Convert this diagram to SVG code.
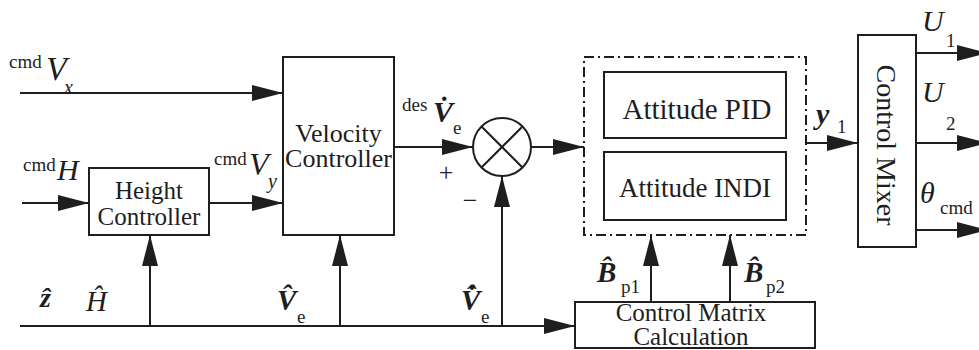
<svg xmlns="http://www.w3.org/2000/svg" width="979" height="350" viewBox="0 0 979 350">
<defs>
<marker id="arr" markerUnits="userSpaceOnUse" markerWidth="32" markerHeight="18" refX="31" refY="9" orient="auto" viewBox="0 0 32 18">
<path d="M0,1 L31,9 L0,17 z" fill="#1e1e1e"/>
</marker>
<style>
.box{fill:#fff;stroke:#1e1e1e;stroke-width:2}
.ln{fill:none;stroke:#1e1e1e;stroke-width:2}
</style>
</defs>
<rect width="979" height="350" fill="#fff"/>

<g id="connectors">
<line class="ln" x1="20" y1="93" x2="283" y2="93" marker-end="url(#arr)"/>
<line class="ln" x1="22" y1="203" x2="89" y2="203" marker-end="url(#arr)"/>
<line class="ln" x1="209" y1="203" x2="283" y2="203" marker-end="url(#arr)"/>
<line class="ln" x1="394" y1="147" x2="473" y2="147" marker-end="url(#arr)"/>
<line class="ln" x1="531" y1="147" x2="584" y2="147" marker-end="url(#arr)"/>
<line class="ln" x1="806" y1="143" x2="858" y2="143" marker-end="url(#arr)"/>
<line class="ln" x1="916" y1="53" x2="988" y2="53" marker-end="url(#arr)"/>
<line class="ln" x1="916" y1="143" x2="988" y2="143" marker-end="url(#arr)"/>
<line class="ln" x1="916" y1="230" x2="988" y2="230" marker-end="url(#arr)"/>
<line class="ln" x1="20" y1="326" x2="575" y2="326" marker-end="url(#arr)"/>
<line class="ln" x1="150" y1="326" x2="150" y2="235" marker-end="url(#arr)"/>
<line class="ln" x1="340" y1="326" x2="340" y2="235" marker-end="url(#arr)"/>
<line class="ln" x1="502" y1="326" x2="502" y2="176" marker-end="url(#arr)"/>
<line class="ln" x1="651" y1="302" x2="651" y2="235" marker-end="url(#arr)"/>
<line class="ln" x1="730" y1="302" x2="730" y2="235" marker-end="url(#arr)"/>
</g>

<g font-family="Liberation Serif, Times New Roman, serif" fill="#1e1e1e">
<g id="height-controller">
<rect class="box" x="89" y="168" width="120" height="67"/>
<text x="149" y="199" font-size="25" text-anchor="middle">Height</text>
<text x="149" y="225" font-size="25" text-anchor="middle">Controller</text>
</g>

<g id="velocity-controller">
<rect class="box" x="283" y="57" width="111" height="178"/>
<text x="338.5" y="142" font-size="26" text-anchor="middle">Velocity</text>
<text x="338.5" y="167" font-size="26" text-anchor="middle">Controller</text>
</g>

<g id="summing-junction">
<circle class="box" cx="502" cy="147" r="29"/>
<line class="ln" x1="481.5" y1="126.5" x2="522.5" y2="167.5"/>
<line class="ln" x1="522.5" y1="126.5" x2="481.5" y2="167.5"/>
</g>

<g id="attitude-group">
<rect x="584" y="57" width="222" height="178" fill="none" stroke="#1e1e1e" stroke-width="2" stroke-dasharray="10 4 2 4"/>
</g>

<g id="attitude-pid">
<rect class="box" x="604" y="72" width="182" height="66"/>
<text x="697" y="119" font-size="29" text-anchor="middle">Attitude PID</text>
</g>

<g id="attitude-indi">
<rect class="box" x="604" y="152" width="182" height="68"/>
<text x="695" y="197" font-size="27" text-anchor="middle">Attitude INDI</text>
</g>

<g id="control-mixer">
<rect class="box" x="858" y="35" width="58" height="212"/>
<text transform="translate(877,145) rotate(90)" font-size="28" text-anchor="middle">Control Mixer</text>
</g>

<g id="control-matrix">
<rect class="box" x="575" y="302" width="240" height="46"/>
<text x="691" y="321" font-size="25" text-anchor="middle">Control Matrix</text>
<text x="691" y="345" font-size="25" text-anchor="middle">Calculation</text>
</g>

<g id="labels">
<text x="9" y="68" font-size="19">cmd</text>
<text x="46" y="80" font-size="34" font-style="italic">V</text>
<text x="64" y="94" font-size="20" font-style="italic">x</text>

<text x="23" y="171" font-size="19">cmd</text>
<text x="57" y="180" font-size="30" font-style="italic">H</text>

<text x="214" y="165" font-size="19">cmd</text>
<text x="249" y="175" font-size="32" font-style="italic">V</text>
<text x="268" y="188" font-size="20" font-style="italic">y</text>

<text x="402" y="111" font-size="19">des</text>
<text x="433" y="122" font-size="30" font-style="italic" font-weight="bold">V&#x307;</text>
<text x="453" y="134" font-size="19">e</text>

<text x="446" y="181" font-size="26" text-anchor="middle">+</text>
<text x="470" y="209" font-size="26" text-anchor="middle">−</text>

<text x="816" y="124" font-size="30" font-style="italic" font-weight="bold">y</text>
<text x="837" y="133" font-size="19">1</text>

<text x="922" y="31" font-size="30" font-style="italic">U</text>
<text x="946" y="47" font-size="19">1</text>
<text x="922" y="102" font-size="30" font-style="italic">U</text>
<text x="946" y="130" font-size="19">2</text>
<text x="920" y="203" font-size="30" font-style="italic">θ</text>
<text x="940" y="214" font-size="19">cmd</text>

<text x="40" y="307" font-size="28" font-style="italic" font-weight="bold">&#x1E91;</text>
<text x="86" y="311" font-size="29" font-style="italic">&#x124;</text>

<text x="277" y="310" font-size="29" font-style="italic" font-weight="bold">V&#x302;</text>
<text x="297" y="323" font-size="19">e</text>

<text x="461" y="310" font-size="29" font-style="italic" font-weight="bold">V&#x307;&#x302;</text>
<text x="481" y="323" font-size="19">e</text>

<text x="597" y="282" font-size="29" font-style="italic" font-weight="bold">B&#x302;</text>
<text x="621" y="293" font-size="19">p1</text>

<text x="744" y="282" font-size="29" font-style="italic" font-weight="bold">B&#x302;</text>
<text x="766" y="293" font-size="19">p2</text>
</g>
</g>
</svg>
